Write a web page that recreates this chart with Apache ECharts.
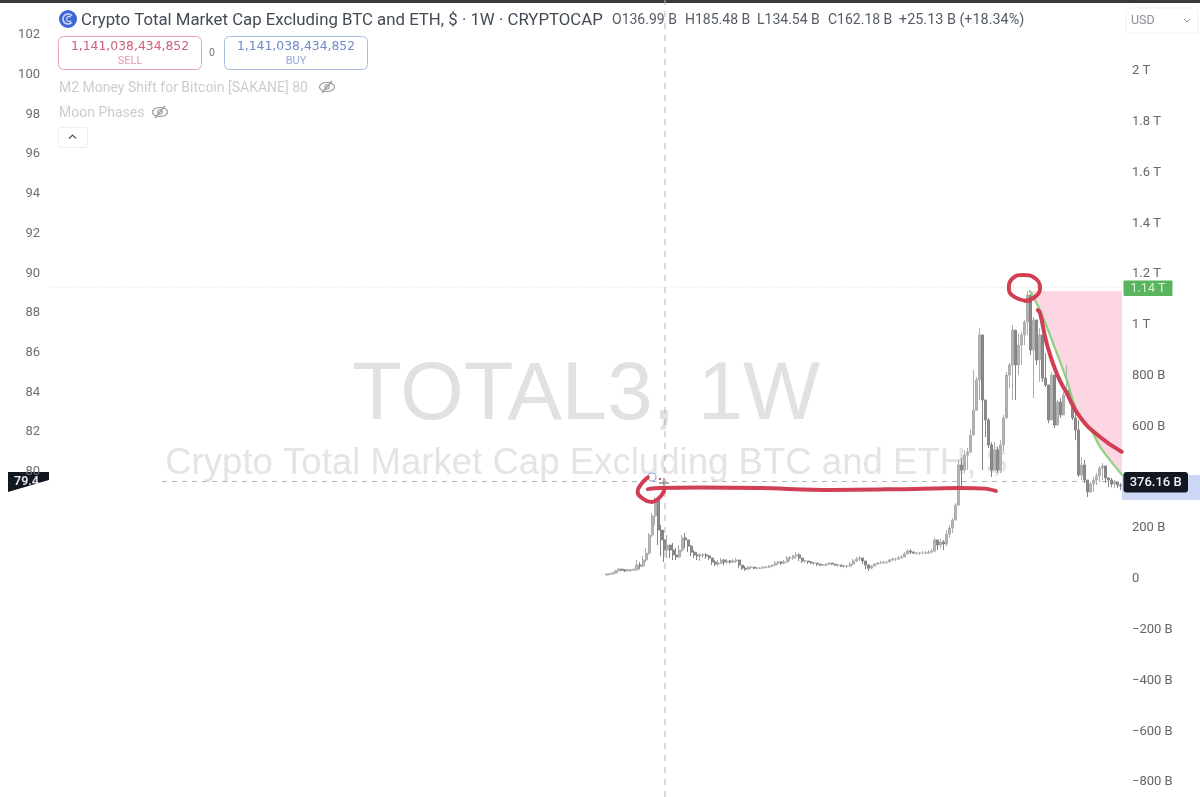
<!DOCTYPE html>
<html><head><meta charset="utf-8">
<style>html,body{margin:0;padding:0;background:#fff}#c{width:1200px;height:797px;filter:blur(0.6px)}</style>
<script src="https://cdn.jsdelivr.net/npm/echarts@6/dist/echarts.min.js"></script>
</head><body><div id="c"></div>
<script>
// Weekly TOTAL3 candles, values in billions of USD
const opens = [8,12,12,16,24,31,28,24,28,28,
28,47,43,67,94,165,240,303,185,146,
106,126,106,87,79,106,154,146,122,98,
87,83,87,87,83,75,59,51,55,67,
59,63,59,63,67,47,35,31,39,39,
35,35,35,39,39,43,47,55,59,55,
59,75,75,83,87,75,63,63,59,55,
55,51,47,47,51,55,51,47,47,43,
43,43,51,63,71,75,63,47,35,43,
51,55,55,59,59,67,71,71,75,79,
91,102,98,94,94,94,94,94,98,102,
146,126,138,130,169,193,224,283,441,421,
480,492,559,657,776,953,697,618,520,421,
500,421,520,626,795,835,972,835,913,953,
1004,1110,894,1012,854,953,783,756,618,795,
598,689,638,717,736,697,626,579,402,441,
382,335,366,382,398,429,437,390,382,366,374,362];
const closes = [12,12,16,24,31,28,24,28,28,28,
47,43,67,94,165,240,303,185,146,106,
126,106,87,79,106,154,146,122,98,87,
83,87,87,83,75,59,51,55,67,59,
63,59,63,67,47,35,31,39,39,35,
35,35,39,39,43,47,55,59,55,59,
75,75,83,87,75,63,63,59,55,55,
51,47,47,51,55,51,47,47,43,43,
43,51,63,71,75,63,47,35,43,51,
55,55,59,59,67,71,71,75,79,91,
102,98,94,94,94,94,94,98,102,146,
126,138,130,169,193,224,283,441,421,480,
492,559,657,776,953,697,618,520,421,500,
421,520,626,795,835,972,835,913,953,1004,
1110,894,1012,854,953,783,756,618,795,598,
689,638,717,736,697,626,579,402,441,382,
335,366,382,398,429,437,390,382,366,374,362,358];
const lows = [8,8,12,16,24,24,20,24,20,24,
28,31,39,59,87,157,205,126,83,59,
75,75,67,67,75,98,114,98,83,75,
67,63,75,71,67,47,43,43,51,47,
51,51,55,55,35,28,24,31,31,31,
31,31,35,35,35,39,43,47,47,51,
59,63,67,71,63,55,55,51,51,47,
43,43,43,43,47,47,43,39,39,35,
35,39,47,59,63,51,31,24,31,43,
47,51,55,51,59,63,63,67,75,83,
91,91,91,87,87,91,91,91,94,98,
106,114,106,122,154,173,224,303,343,409,
421,488,567,669,697,421,551,508,394,421,
409,409,496,665,744,697,697,795,835,913,
953,874,705,835,768,768,748,606,650,587,
626,626,689,728,685,618,539,394,382,370,
315,331,335,362,374,382,370,354,354,350,350,343];
const highs = [12,16,20,28,35,31,31,31,31,35,
67,59,83,114,173,252,315,283,205,185,
165,126,134,114,126,165,173,146,126,106,
98,94,94,94,87,75,67,67,75,71,
71,67,71,75,67,47,43,43,43,39,
39,39,43,43,47,51,63,63,63,67,
83,83,87,98,94,75,67,63,63,59,
55,51,51,55,59,55,51,51,47,47,
47,59,71,79,83,75,63,51,47,55,
59,63,63,63,71,75,75,83,87,98,
110,110,102,98,98,102,102,106,110,154,
146,150,146,185,205,232,291,461,469,500,
508,579,815,787,980,882,697,626,531,531,
512,539,638,807,843,992,913,961,965,1012,
1126,1059,1024,953,980,913,882,709,807,697,
697,705,728,835,744,709,646,618,472,461,
382,374,394,409,437,449,413,394,390,382,374,370];

const emptyLeadingWeeks = 185;
const totalWeeks = 357;
const leftTicks = [80,82,84,86,88,90,92,94,96,98,100,102];
const rightTicks = [-800,-600,-400,-200,0,200,600,800,1000,1200,1400,1600,1800,2000];

const lastPrice = 376.16;
const positionPrice = 1141.04;
const crosshairWeek = 204.3;
const priceFloor = -866, priceCeil = 2271.6;

// Hand-drawn marks, as [week index, price in billions]
const redFlat = [[198.6,346],[202.6,350],[216,352],[236,350],[259.2,343],[282.6,346],[302.5,350],[310.9,348],[314.5,339]];
const redCircleLow = [[198.6,392],[196.4,366],[195.2,335],[196.6,312],[199.9,295],[202.4,312],[204,338]];
const redCircleTop = [[325.8,1087],[320.8,1102],[318.8,1138],[320.2,1177],[323.5,1189],[327.5,1177],[329.2,1138],[327.5,1102],[324.2,1087]];
const redDecline = [[328.5,1051],[329.2,1039],[331.4,921],[334.7,803],[338.1,724],[342.5,630],[349.2,551],[356.4,493]];
const greenDecline = [[325.8,1126],[329.2,1051],[332.5,953],[338.1,776],[341.4,657],[346.8,567],[349.2,512],[356.5,402]];
const shortTop = 1126;

const categories = Array.from({length: totalWeeks}, (_, i) => 'W' + i);
const candles = categories.map((_, i) => {
  const k = i - emptyLeadingWeeks;
  return k < 0 ? [null,null,null,null] : [opens[k], closes[k], lows[k], highs[k]];
});

const FONT = 'Roboto, "Liberation Sans", sans-serif';
const WIDE = '"DejaVu Sans", sans-serif';
const txt = (x,y,text,size,fill,extra={}) => ({type:'text',x,y,silent:true,style:Object.assign({text,fontSize:size,fill,fontFamily:FONT,textVerticalAlign:'middle',verticalAlign:'middle'},extra)});
const rect = (x,y,w,h,style,r=0) => ({type:'rect',silent:true,shape:{x,y,width:w,height:h,r},style});
const eye = (cx,cy) => ({type:'group',silent:true,children:[
  {type:'ellipse',shape:{cx,cy,rx:7.5,ry:4.5},style:{fill:'none',stroke:'#9a9a9a',lineWidth:1.2}},
  {type:'circle',shape:{cx,cy,r:2.2},style:{fill:'none',stroke:'#9a9a9a',lineWidth:1.1}},
  {type:'line',shape:{x1:cx-5,y1:cy+6,x2:cx+5,y2:cy-6},style:{stroke:'#9a9a9a',lineWidth:1.2}}
]});

const graphics = [
  // watermark
  txt(586,397,'TOTAL3, 1W',81.5,'#e1e1e1',{textAlign:'center',fontFamily:'"Liberation Sans", Arial, sans-serif'}),
  txt(586,464,'Crypto Total Market Cap Excluding BTC and ETH, $',36.6,'#e4e4e4',{textAlign:'center',fontFamily:'"Liberation Sans", Arial, sans-serif'}),
  // top strip
  rect(0,0,1200,3,{fill:'#3a3a3a'}),
  // header
  {type:'circle',silent:true,shape:{cx:68,cy:19,r:9},style:{fill:'#3f66d8'}},
  {type:'arc',silent:true,shape:{cx:68,cy:19,r:5,startAngle:0.7,endAngle:5.6},style:{fill:'none',stroke:'#cfdcf8',lineWidth:1.6}},
  {type:'arc',silent:true,shape:{cx:69,cy:19,r:2.4,startAngle:0.7,endAngle:5.6},style:{fill:'none',stroke:'#cfdcf8',lineWidth:1.2}},
  txt(81,20.5,'Crypto Total Market Cap Excluding BTC and ETH, $ · 1W · CRYPTOCAP',16.8,'#444a55'),
  txt(612,20,'O136.99 B',14,'#555b66'),
  txt(685,20,'H185.48 B',14,'#555b66'),
  txt(757,20,'L134.54 B',14,'#555b66'),
  txt(828,20,'C162.18 B',14,'#555b66'),
  txt(899,20,'+25.13 B (+18.34%)',14.4,'#555b66'),
  rect(1126,8,72,25,{fill:'#fff',stroke:'#f1f1f1',lineWidth:1},3),
  txt(1131,21,'USD',12.5,'#8a8f98'),
  {type:'polyline',silent:true,shape:{points:[[1184,19],[1187,22],[1190,19]]},style:{fill:'none',stroke:'#8a8f98',lineWidth:1}},
  // sell / buy
  rect(58.5,36.5,143,33,{fill:'#fff',stroke:'#e5a5b0',lineWidth:1},5),
  txt(130,46.5,'1,141,038,434,852',12.4,'#cc6078',{textAlign:'center',fontFamily:WIDE}),
  txt(130,61,'SELL',11,'#e09aa8',{textAlign:'center'}),
  txt(212,53,'0',10.5,'#777',{textAlign:'center'}),
  rect(224.5,36.5,143,33,{fill:'#fff',stroke:'#a9b9e2',lineWidth:1},5),
  txt(296,46.5,'1,141,038,434,852',12.4,'#7288c8',{textAlign:'center',fontFamily:WIDE}),
  txt(296,61,'BUY',11,'#96a8dc',{textAlign:'center'}),
  // hidden indicators
  txt(59,88.5,'M2 Money Shift for Bitcoin [SAKANE] 80',14,'#cdcdcd'),
  eye(327,87),
  txt(59,113.5,'Moon Phases',14,'#cdcdcd'),
  eye(160,112),
  rect(58.5,127.5,29,20,{fill:'#fff',stroke:'#eeeeee',lineWidth:1},2),
  {type:'polyline',silent:true,shape:{points:[[69,138.5],[72.5,135],[76,138.5]]},style:{fill:'none',stroke:'#555',lineWidth:1.2}},
  // right price labels
  rect(1122,475,78,25,{fill:'#ccd7f5'}),
  rect(1123.5,472,64.5,20.5,{fill:'#131722'},3),
  txt(1155.7,482.5,'376.16 B',13,'#f0f3fa',{textAlign:'center',fontWeight:500}),
  rect(1123.5,280.5,49,15.5,{fill:'#58b55e'},1),
  txt(1148,288.5,'1.14 T',12.5,'#d8f0d8',{textAlign:'center'}),
  // left skewed label
  {type:'polygon',silent:true,shape:{points:[[8,472],[49,472],[49,480],[8,492]]},style:{fill:'#131722'}},
  txt(14,482,'79.4',12.5,'#e8e8e8',{fontWeight:600}),
  {type:'polygon',silent:true,shape:{points:[[8,492.5],[49,480.5],[49,496],[8,496]]},style:{fill:'#fff'}},
  // cursor marks
  {type:'circle',silent:true,shape:{cx:652,cy:477,r:4},style:{fill:'none',stroke:'#8fa8e8',lineWidth:1.2}},
  {type:'circle',silent:true,shape:{cx:660,cy:479,r:1.2},style:{fill:'#c8506a'}},
  {type:'line',silent:true,shape:{x1:659,y1:483,x2:669,y2:483},style:{stroke:'#555',lineWidth:1}},
  {type:'line',silent:true,shape:{x1:664,y1:478,x2:664,y2:488},style:{stroke:'#555',lineWidth:1}}
];

const RED = '#d13f55';
const markLine = (data,color,width,extra={}) => Object.assign({
  type:'line',xAxisIndex:1,yAxisIndex:1,data,showSymbol:false,symbol:'none',silent:true,
  lineStyle:{color,width,cap:'round',join:'round'},z:5,animation:false
},extra);

const chart = echarts.init(document.getElementById('c'),null,{renderer:'canvas'});
chart.setOption({
  animation:false,
  backgroundColor:'#fff',
  grid:{left:50,right:78,top:0,bottom:0,containLabel:false},
  xAxis:[
    {type:'category',data:categories,show:false,boundaryGap:true},
    {type:'value',min:-0.5,max:totalWeeks-0.5,show:false}
  ],
  yAxis:[
    {type:'value',position:'left',min:63.53,max:103.66,splitLine:{show:false},axisLine:{show:false},axisTick:{show:false},
     axisLabel:{customValues:leftTicks,color:'#6f6f6f',fontSize:13,margin:10,verticalAlign:'top',lineHeight:4,fontFamily:FONT}},
    {type:'value',position:'right',min:priceFloor,max:priceCeil,splitLine:{show:false},axisLine:{show:false},axisTick:{show:false},
     axisLabel:{customValues:rightTicks,color:'#666',fontSize:13,margin:10,verticalAlign:'top',lineHeight:4,fontFamily:FONT,
       formatter:v=>v===0?'0':(Math.abs(v)>=1000?(v<0?'−':'')+Math.abs(v)/1000+' T':(v<0?'−':'')+Math.abs(v)+' B')}}
  ],
  graphic:{elements:graphics},
  series:[
    markLine(greenDecline,'#93d283',2,{z:3,smooth:0.3,areaStyle:{color:'#fcd6e3',opacity:1,origin:shortTop}}),
    markLine([[36.8,lastPrice],[totalWeeks-0.5,lastPrice]],'#b5b5b5',1,{z:1,lineStyle:{color:'#b5b5b5',width:1,type:[5,5]}}),
    markLine([[-0.5,positionPrice],[totalWeeks-0.5,positionPrice]],'#dcdcdc',1,{z:1,lineStyle:{color:'#dcdcdc',width:1,type:[1,2]}}),
    markLine([[crosshairWeek,priceFloor],[crosshairWeek,priceCeil]],'#b5b5b5',1,{z:1,lineStyle:{color:'#b5b5b5',width:1,type:[6,6]}}),
    {type:'candlestick',xAxisIndex:0,yAxisIndex:1,data:candles,barWidth:2.6,z:4,silent:true,
     itemStyle:{color:'#b4b4b4',color0:'#8c8c8c',borderColor:'#adadad',borderColor0:'#858585',borderWidth:1}},
    markLine(greenDecline,'#93d283',2,{z:5,smooth:0.3}),
    markLine(redFlat,RED,4,{z:6,smooth:0.3}),
    markLine(redCircleLow,RED,4,{z:6,smooth:0.5}),
    markLine(redCircleTop,RED,4,{z:6,smooth:0.5}),
    markLine(redDecline,RED,4,{z:6,smooth:0.5})
  ]
});
</script></body></html>
